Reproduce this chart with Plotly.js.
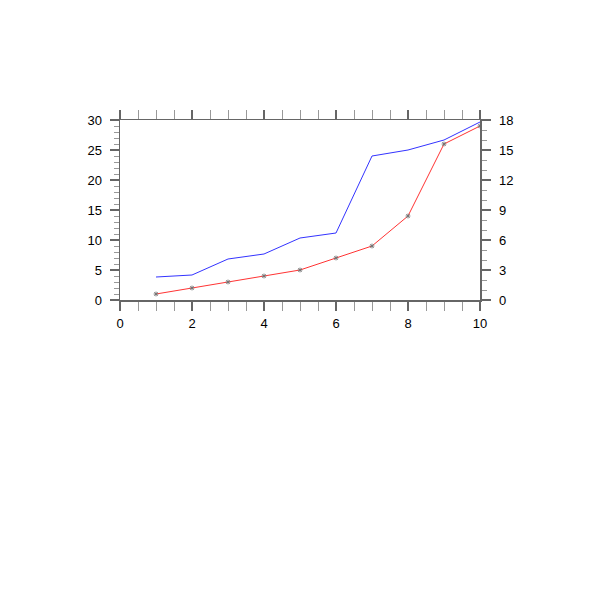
<!DOCTYPE html>
<html>
<head>
<meta charset="utf-8">
<script src="https://cdn.plot.ly/plotly-3.0.1.min.js"></script>
<style>html,body{margin:0;padding:0;background:#fff}#chart{width:600px;height:600px}</style>
</head>
<body>
<div id="chart"></div>
<script>
var xVals = [1, 2, 3, 4, 5, 6, 7, 8, 9, 10];
var redVals = [1, 2, 3, 4, 5, 7, 9, 14, 26, 29];
var blueVals = [2.3, 2.5, 4.1, 4.6, 6.2, 6.7, 14.4, 15, 16, 17.8];

var axisColor = '#666666';
var minorColor = '#999999';
var tickFont = {family: 'Liberation Sans, Arial, sans-serif', size: 13, color: '#000'};

var traces = [
  {x: xVals, y: redVals, type: 'scatter', mode: 'lines+markers', yaxis: 'y',
   line: {color: '#ff3333', width: 1},
   marker: {symbol: 'asterisk-open', size: 4, color: '#777', line: {color: '#777', width: 1}},
   hoverinfo: 'none', showlegend: false},
  {x: xVals, y: blueVals, type: 'scatter', mode: 'lines', yaxis: 'y2',
   line: {color: '#3333ff', width: 1}, hoverinfo: 'none', showlegend: false}
];

var layout = {
  width: 600, height: 600,
  margin: {l: 120, r: 120, t: 120, b: 300},
  paper_bgcolor: '#fff', plot_bgcolor: '#fff',
  showlegend: false,
  xaxis: {range: [0, 10], dtick: 2, tick0: 0, ticks: 'outside', ticklen: 9, tickwidth: 1.2,
          tickcolor: axisColor, showline: true, linecolor: axisColor, linewidth: 1.5,
          mirror: 'allticks', showgrid: false, zeroline: false, tickfont: tickFont,
          ticklabelstandoff: 2,
          minor: {dtick: 0.5, ticks: 'outside', ticklen: 5, tickcolor: minorColor, tickwidth: 1}},
  yaxis: {range: [0, 30], dtick: 5, tick0: 0, ticks: 'outside', ticklen: 9, tickwidth: 1.2,
          tickcolor: axisColor, showline: true, linecolor: axisColor, linewidth: 1.5,
          showgrid: false, zeroline: false, tickfont: tickFont,
          ticklabelstandoff: 5,
          minor: {dtick: 1, ticks: 'outside', ticklen: 5, tickcolor: minorColor, tickwidth: 1}},
  yaxis2: {range: [0, 18], dtick: 3, tick0: 0, overlaying: 'y', side: 'right',
           ticks: 'outside', ticklen: 9, tickwidth: 1.2,
           tickcolor: axisColor, showline: true, linecolor: axisColor, linewidth: 1.5,
           showgrid: false, zeroline: false, tickfont: tickFont,
           ticklabelstandoff: 6,
           minor: {dtick: 1, ticks: 'outside', ticklen: 5, tickcolor: minorColor, tickwidth: 1}}
};

Plotly.newPlot('chart', traces, layout, {staticPlot: true, displayModeBar: false});
</script>
</body>
</html>
